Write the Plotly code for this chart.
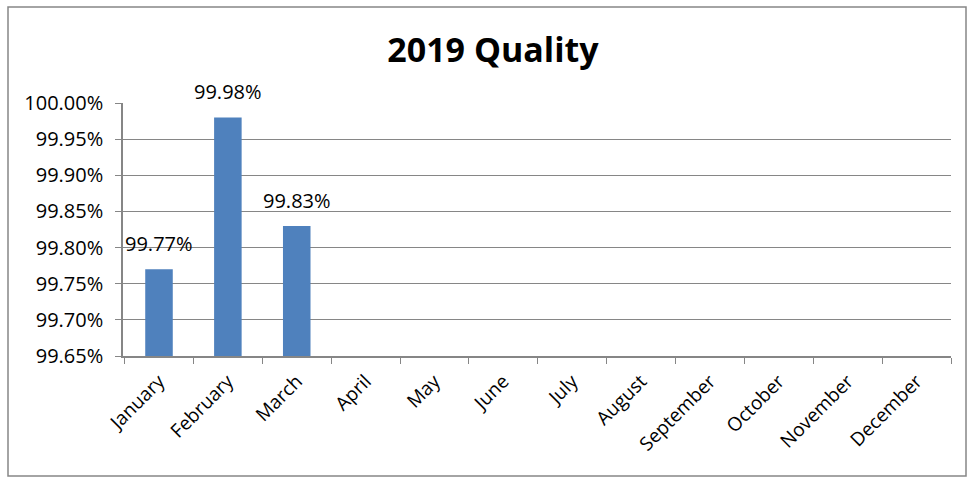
import plotly.graph_objects as go

months = ["January", "February", "March", "April", "May", "June", "July",
          "August", "September", "October", "November", "December"]
quality = [0.9977, 0.9998, 0.9983, None, None, None, None, None, None, None, None, None]
labels = ["99.77%", "99.98%", "99.83%", "", "", "", "", "", "", "", "", ""]

FONT = "Open Sans"

fig = go.Figure()
fig.add_trace(go.Bar(
    x=months, y=quality,
    marker=dict(color="#4f81bd", line=dict(width=0)),
    cliponaxis=False, hoverinfo="skip",
))
for m, v, t in zip(months, quality, labels):
    if v is not None and t:
        fig.add_annotation(x=m, y=v, text=t, showarrow=False, yanchor="bottom",
                           yshift=10, font=dict(family=FONT, size=20, color="black"))

fig.update_layout(
    width=968, height=478,
    margin=dict(l=123, r=17, t=103, b=122),
    paper_bgcolor="white", plot_bgcolor="white",
    bargap=0.6, showlegend=False,
    title=dict(text="<b>2019 Quality</b>", x=493/968, xanchor="center",
               y=1 - 50/478, yanchor="middle",
               font=dict(family=FONT, size=34, color="black")),
    font=dict(family=FONT, size=20, color="black"),
)
fig.update_xaxes(
    type="category", tickangle=-45, showgrid=False,
    showline=True, linecolor="#868686", linewidth=1.5,
    ticks="outside", tickson="boundaries", ticklen=6, tickcolor="#868686",
    ticklabelstandoff=5,
    tickfont=dict(family=FONT, size=19, color="black"),
)
fig.update_yaxes(
    range=[0.9965, 1.0], dtick=0.0005, tickformat=".2%",
    showgrid=True, gridcolor="#868686", gridwidth=1,
    showline=True, linecolor="#868686", linewidth=1.5,
    ticks="outside", ticklen=6, tickcolor="#868686",
    ticklabelstandoff=8,
    tickfont=dict(family=FONT, size=20, color="black"),
    zeroline=False,
)
# outer chart border
fig.add_shape(type="rect", xref="paper", yref="paper",
              x0=(8 - 123) / 828, x1=(966 - 123) / 828,
              y0=(356 - 476) / 253, y1=(356 - 7) / 253,
              line=dict(color="#868686", width=1.5), fillcolor="rgba(0,0,0,0)",
              layer="below")

fig.write_html("out.html", config={"displayModeBar": False},
               post_script="document.body.style.margin='0';")
